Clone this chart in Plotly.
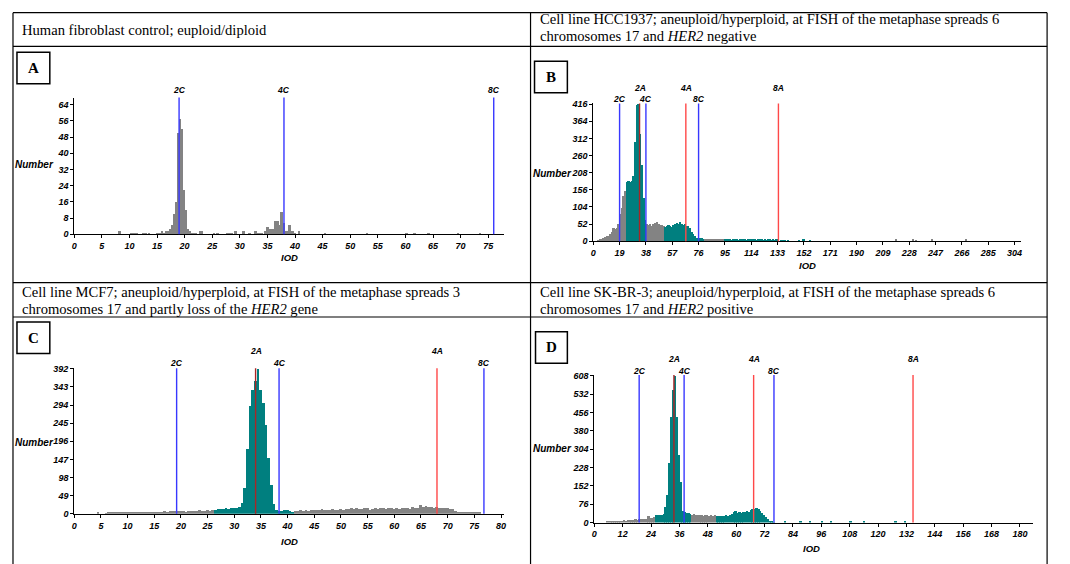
import plotly.graph_objects as go

# ---------------- captions ----------------
CAPTION_A = ["Human fibroblast control; euploid/diploid"]
CAPTION_B = ["Cell line HCC1937; aneuploid/hyperploid, at FISH of the metaphase spreads 6",
             "chromosomes 17 and <i>HER2</i> negative"]
CAPTION_C = ["Cell line MCF7; aneuploid/hyperploid, at FISH of the metaphase spreads 3",
             "chromosomes 17 and partly loss of the <i>HER2</i> gene"]
CAPTION_D = ["Cell line SK-BR-3; aneuploid/hyperploid, at FISH of the metaphase spreads 6",
             "chromosomes 17 and <i>HER2</i> positive"]

# ---------------- panel A: fibroblast (sparse histogram) ----------------
A_iod = [8.32, 10.48, 10.98, 11.48, 12.6, 13.1, 13.6, 15.2, 15.56, 16.0,
         16.36, 16.72, 17.08, 17.44, 17.8, 18.16, 18.52, 18.88, 19.24, 19.6,
         19.96, 20.32, 20.68, 21.04, 21.4, 21.76, 22.12, 22.84, 23.2, 25.36,
         26.08, 27.88, 28.24, 28.6, 29.32, 30.76, 31.84, 32.92, 33.28, 33.64,
         34.0, 34.72, 35.08, 35.44, 35.8, 36.16, 36.52, 36.88, 37.24, 37.6,
         37.96, 38.32, 38.68, 39.04, 39.4, 39.76, 40.12, 40.84, 45.52, 53.08,
         60.28, 61.72, 64.24, 69.64, 73.6]
A_num = [2, 1, 1, 1, 1, 1, 1, 1, 1, 2,
         1, 2, 2, 3, 5, 10, 16, 50, 57, 52,
         22, 12, 3, 2, 1, 1, 1, 2, 2, 1,
         1, 1, 1, 1, 2, 2, 1, 2, 1, 1,
         1, 2, 4, 3, 3, 3, 7, 7, 5, 11,
         6, 2, 2, 5, 2, 2, 1, 2, 1, 1,
         1, 1, 1, 1, 1]
A_teal = []
A_xticks = [0, 5, 10, 15, 20, 25, 30, 35, 40, 45, 50, 55, 60, 65, 70, 75]
A_yticks = [0, 8, 16, 24, 32, 40, 48, 56, 64]
A_marks = {"2C": 19.0, "4C": 38.0, "8C": 76.0}

# ---------------- panel B: HCC1937 ----------------
B_start, B_bin = 4.2, 1.2
B_num = [2, 4, 6, 8, 11, 13, 15, 20, 26, 40,
         36, 38, 52, 82, 100, 135, 150, 178, 180, 177,
         180, 195, 300, 412, 416, 325, 230, 130, 62, 50,
         47, 50, 46, 52, 55, 58, 50, 48, 47, 45,
         43, 46, 48, 45, 42, 47, 52, 55, 50, 57,
         52, 48, 50, 45, 46, 40, 28, 20, 13, 9,
         7, 9, 8, 6, 5, 4, 5, 4, 3, 3,
         4, 3, 5, 4, 3, 4, 3, 4, 3, 3,
         2, 3, 4, 3, 2, 3, 3, 4, 3, 2,
         4, 3, 5, 3, 4, 2, 3, 4, 3, 2,
         3, 2, 3, 4, 2, 3, 2, 3, 2, 0,
         2, 1, 2, 0, 2]
B_sparse_iod = [148.5, 152.0, 156.5, 219.0, 231.0, 233.0, 245.0, 269.0]
B_sparse_num = [2, 3, 2, 3, 3, 2, 3, 3]
B_teal = [(24.0, 38.4), (51.6, 80.4), (94.8, 160.0)]
B_xticks = [0, 19, 38, 57, 76, 95, 114, 133, 152, 171, 190, 209, 228, 247, 266, 285, 304]
B_yticks = [0, 52, 104, 156, 208, 260, 312, 364, 416]
B_marks = {"2C": 19.0, "4C": 38.0, "8C": 76.0, "2A": 33.4, "4A": 66.8, "8A": 133.6}

# ---------------- panel C: MCF7 ----------------
C_start, C_bin = 4.5, 0.5
C_num = [2, 0, 0, 1, 2, 2, 3, 2, 3, 3,
         2, 4, 3, 4, 5, 3, 4, 5, 3, 4,
         4, 5, 3, 4, 5, 6, 5, 6, 7, 6,
         8, 6, 7, 5, 6, 7, 8, 6, 9, 7,
         8, 10, 8, 9, 11, 12, 13, 12, 14, 13,
         15, 15, 14, 18, 30, 70, 175, 290, 335, 358,
         392, 335, 300, 240, 150, 78, 25, 11, 6, 8,
         11, 10, 8, 5, 8, 7, 9, 8, 10, 8,
         9, 11, 9, 10, 12, 10, 11, 9, 12, 11,
         10, 12, 11, 13, 12, 14, 12, 15, 13, 12,
         14, 16, 11, 13, 15, 12, 14, 16, 13, 15,
         14, 12, 15, 13, 16, 14, 15, 13, 17, 15,
         16, 22, 18, 20, 17, 19, 16, 18, 15, 16,
         14, 15, 13, 12, 8, 5, 4, 3, 3, 3,
         2, 2, 2, 2]
C_teal = [(26.25, 41.25)]
C_xticks = [0, 5, 10, 15, 20, 25, 30, 35, 40, 45, 50, 55, 60, 65, 70, 75, 80]
C_yticks = [0, 49, 98, 147, 196, 245, 294, 343, 392]
C_marks = {"2C": 19.2, "4C": 38.4, "8C": 76.8, "2A": 34.0, "4A": 68.0}

# ---------------- panel D: SK-BR-3 ----------------
D_start, D_bin = 5.6, 0.8
D_num = [3, 4, 5, 5, 6, 5, 6, 7, 8, 9,
         8, 10, 11, 10, 12, 13, 12, 14, 13, 15,
         14, 16, 26, 18, 20, 22, 30, 32, 31, 33,
         35, 63, 115, 245, 436, 550, 608, 436, 282, 168,
         50, 42, 40, 38, 37, 33, 35, 31, 33, 30,
         32, 29, 31, 30, 28, 31, 29, 30, 27, 28,
         27, 29, 28, 30, 29, 32, 35, 42, 48, 40,
         43, 41, 45, 42, 47, 45, 52, 58, 55, 60,
         56, 48, 40, 30, 22, 14, 8, 4, 2]
D_sparse_iod = [80.8, 87.5, 91.5, 96.6, 100.2, 108.5, 114.3, 127.6, 131.7]
D_sparse_num = [3, 4, 3, 4, 3, 3, 7, 3, 4]
D_teal = [(26.0, 41.2), (51.6, 140.0)]
D_xticks = [0, 12, 24, 36, 48, 60, 72, 84, 96, 108, 120, 132, 144, 156, 168, 180]
D_yticks = [0, 76, 152, 228, 304, 380, 456, 532, 608]
D_marks = {"2C": 19.0, "4C": 38.0, "8C": 76.0, "2A": 33.7, "4A": 67.4, "8A": 134.8}


def bins(start, width, counts):
    return [round(start + i * width, 2) for i in range(len(counts))]


B_iod = bins(B_start, B_bin, B_num) + B_sparse_iod
B_all = B_num + B_sparse_num
C_iod = bins(C_start, C_bin, C_num)
D_iod = bins(D_start, D_bin, D_num) + D_sparse_iod
D_all = D_num + D_sparse_num

# ---------------- styling / layout ----------------
# the page body has an 8px margin, so the figure is 8px smaller and every
# position below is given in page pixels and shifted back by OFF
W, H, OFF = 1070, 564, 8
FW, FH = W - OFF, H - OFF
TEAL = "#007f7f"
GRAY = "#838383"
BLUE = "#3838ff"
RED = "#ff4848"
DARKRED = "#a82626"
SERIF = "Liberation Serif, Times New Roman, serif"
AXFONT = dict(family="Liberation Sans Narrow, Arial Narrow, Liberation Sans, sans-serif",
              size=9, color="black", weight="bold", style="italic")


def hx(x):
    return (x - OFF) / FW


def hy(y):
    return 1 - (y - OFF) / FH


panels = [
    dict(iod=A_iod, num=A_num, teal=A_teal, xt=A_xticks, yt=A_yticks, marks=A_marks,
         box=(71.5, 95, 503, 234), xr=77.8, yr=67.5, bw=0.36, rowA=None, rowC=87,
         number=(53, 163), iod_lab=(288, 258)),
    dict(iod=B_iod, num=B_all, teal=B_teal, xt=B_xticks, yt=B_yticks, marks=B_marks,
         box=(593, 101, 1022.5, 241), xr=308.4, yr=418, bw=B_bin, rowA=85, rowC=96,
         number=(574, 172), iod_lab=(808, 266)),
    dict(iod=C_iod, num=C_num, teal=C_teal, xt=C_xticks, yt=C_yticks, marks=C_marks,
         box=(71.5, 370, 503, 518), xr=80.5, yr=394, bw=C_bin, rowA=352.5, rowC=364.5,
         number=(53, 446), iod_lab=(288, 546)),
    dict(iod=D_iod, num=D_all, teal=D_teal, xt=D_xticks, yt=D_yticks, marks=D_marks,
         box=(594, 377, 1035, 527), xr=185.6, yr=612, bw=D_bin, rowA=361, rowC=373,
         number=(574, 452), iod_lab=(812, 553)),
]

fig = go.Figure()
shapes = []
annotations = []

for k, p in enumerate(panels, start=1):
    sfx = "" if k == 1 else str(k)
    xa, ya = "x" + sfx, "y" + sfx
    colors = [TEAL if any(lo <= v < hi for lo, hi in p["teal"]) else GRAY for v in p["iod"]]
    fig.add_trace(go.Bar(x=p["iod"], y=p["num"], width=p["bw"],
                         marker=dict(color=colors, line=dict(width=0)),
                         xaxis=xa, yaxis=ya, hoverinfo="skip"))
    x0, y0, x1, y1 = p["box"]
    common = dict(showline=True, linecolor="black", linewidth=1, ticks="outside",
                  ticklen=3, tickwidth=1, tickcolor="black", showgrid=False,
                  zeroline=False, tickfont=AXFONT, fixedrange=True)
    fig.update_layout(**{
        "xaxis" + sfx: dict(domain=[hx(x0), hx(x1)], range=[0, p["xr"]], anchor=ya,
                            tickvals=p["xt"], **common),
        "yaxis" + sfx: dict(domain=[hy(y1), hy(y0)], range=[0, p["yr"]], anchor=xa,
                            tickvals=p["yt"], **common),
    })
    for lab, v in p["marks"].items():
        if lab.endswith("C"):
            col, row = BLUE, p["rowC"]
        else:
            col, row = (DARKRED if lab == "2A" else RED), p["rowA"]
        shapes.append(dict(type="line", xref=xa, yref=ya + " domain", x0=v, x1=v, y0=0, y1=1,
                           line=dict(color=col, width=1.4)))
        annotations.append(dict(x=v, y=hy(row), xref=xa, yref="paper", text=lab,
                                showarrow=False, font=dict(AXFONT, size=8.5),
                                xanchor="center", yanchor="middle"))
    nx, ny = p["number"]
    annotations.append(dict(x=hx(nx), y=hy(ny), xref="paper", yref="paper", text="Number",
                            showarrow=False, font=dict(AXFONT, size=10),
                            xanchor="right", yanchor="middle"))
    ix, iy = p["iod_lab"]
    annotations.append(dict(x=hx(ix), y=hy(iy), xref="paper", yref="paper", text="IOD",
                            showarrow=False, font=dict(AXFONT, size=9.5),
                            xanchor="center", yanchor="middle"))

# table grid
LINE = dict(color="black", width=1.2)
for yy in [8.7, 43, 283, 318]:
    shapes.append(dict(type="line", xref="paper", yref="paper", x0=hx(10), x1=hx(1049),
                       y0=hy(yy), y1=hy(yy), line=LINE))
for xx in [10, 530, 1049]:
    shapes.append(dict(type="line", xref="paper", yref="paper", x0=hx(xx), x1=hx(xx),
                       y0=hy(8.7), y1=hy(570), line=LINE))

# panel letter boxes
for letter, (bx0, by0, bx1, by1) in [("A", (14, 49, 47, 81)), ("B", (534, 58, 567, 90)),
                                     ("C", (14, 323, 47, 355)), ("D", (535, 333, 567, 365))]:
    shapes.append(dict(type="rect", xref="paper", yref="paper", x0=hx(bx0), x1=hx(bx1),
                       y0=hy(by1), y1=hy(by0), line=dict(color="black", width=1.5)))
    annotations.append(dict(x=hx((bx0 + bx1) / 2), y=hy((by0 + by1) / 2), xref="paper",
                            yref="paper", text="<b>%s</b>" % letter, showarrow=False,
                            font=dict(family=SERIF, size=15, color="black"),
                            xanchor="center", yanchor="middle"))

# captions, one annotation per text line
for lines, cx, cys in [(CAPTION_A, 17, [26]), (CAPTION_B, 537, [15, 32]),
                       (CAPTION_C, 17, [293, 310]), (CAPTION_D, 537, [293, 310])]:
    for text, cy in zip(lines, cys):
        annotations.append(dict(x=hx(cx), y=hy(cy), xref="paper", yref="paper", text=text,
                                showarrow=False, xanchor="left", yanchor="middle",
                                font=dict(family=SERIF, size=14.6, color="black")))

fig.update_layout(width=FW, height=FH, margin=dict(l=0, r=0, t=0, b=0),
                  paper_bgcolor="white", plot_bgcolor="white", showlegend=False,
                  bargap=0, shapes=shapes, annotations=annotations)

fig.write_html("out.html")
